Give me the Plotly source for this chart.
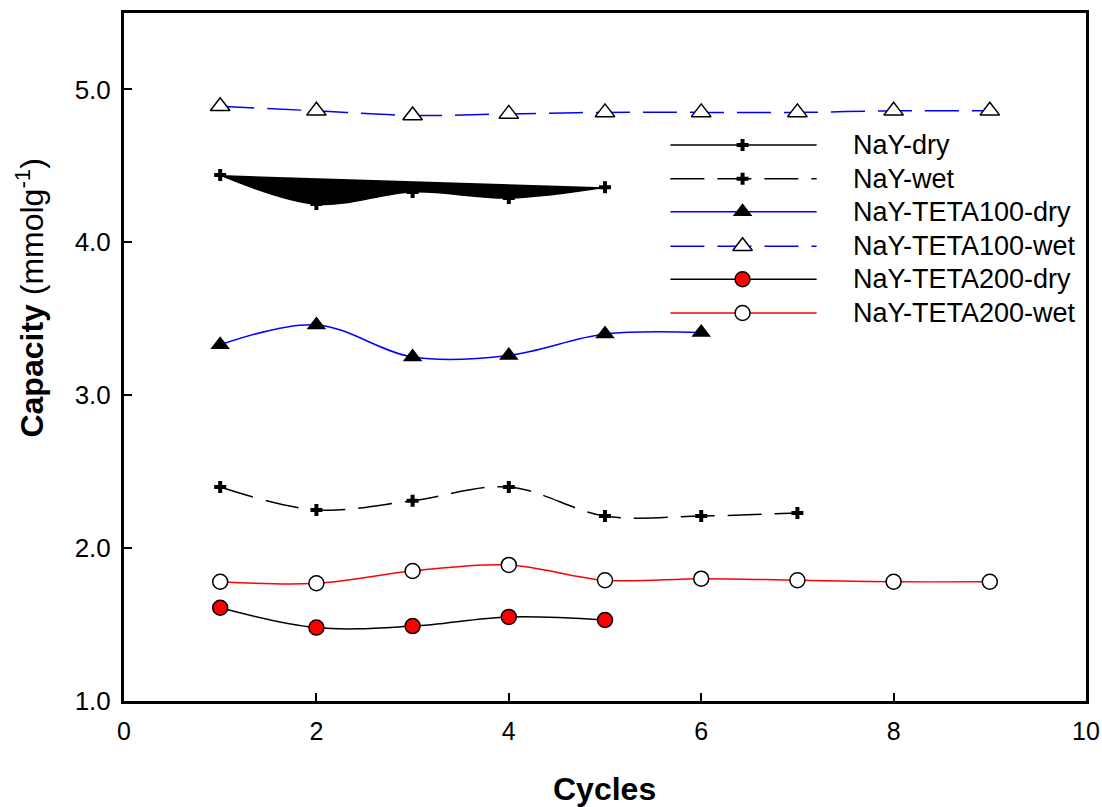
import plotly.graph_objects as go

# ---- data ----
nay_dry_x = [1, 2, 3, 4, 5]
nay_dry_y = [4.44, 4.25, 4.33, 4.29, 4.36]

nay_wet_x = [1, 2, 3, 4, 5, 6, 7]
nay_wet_y = [2.40, 2.25, 2.31, 2.40, 2.21, 2.21, 2.23]

teta100_dry_x = [1, 2, 3, 4, 5, 6]
teta100_dry_y = [3.33, 3.46, 3.25, 3.26, 3.40, 3.41]

teta100_wet_x = [1, 2, 3, 4, 5, 6, 7, 8, 9]
teta100_wet_y = [4.89, 4.86, 4.83, 4.84, 4.85, 4.85, 4.85, 4.86, 4.86]

teta200_dry_x = [1, 2, 3, 4, 5]
teta200_dry_y = [1.61, 1.48, 1.49, 1.55, 1.53]

teta200_wet_x = [1, 2, 3, 4, 5, 6, 7, 8, 9]
teta200_wet_y = [1.78, 1.77, 1.85, 1.89, 1.79, 1.80, 1.79, 1.78, 1.78]

series_names = ["NaY-dry", "NaY-wet", "NaY-TETA100-dry", "NaY-TETA100-wet",
                "NaY-TETA200-dry", "NaY-TETA200-wet"]

x_ticks = [0, 2, 4, 6, 8, 10]
y_ticks = [1.0, 2.0, 3.0, 4.0, 5.0]

x_title = "<b>Cycles</b>"
y_title = "<b>Capacity</b> (mmolg<sup>-1</sup>)"

DASH = "34px,13px"
FONT = "Liberation Sans, Arial, Helvetica, sans-serif"

styles = [
    dict(line=dict(color="black", width=1.5, shape="spline"),
         marker=dict(symbol="cross", size=10, color="black")),
    dict(line=dict(color="black", width=1.5, dash=DASH, shape="spline"),
         marker=dict(symbol="cross", size=10, color="black")),
    dict(line=dict(color="blue", width=1.5, shape="spline"),
         marker=dict(symbol="triangle-up", size=17, color="black")),
    dict(line=dict(color="blue", width=1.5, dash=DASH, shape="spline"),
         marker=dict(symbol="triangle-up", size=17, color="white",
                     line=dict(color="black", width=1.5))),
    dict(line=dict(color="black", width=1.5, shape="spline"),
         marker=dict(symbol="circle", size=15, color="red",
                     line=dict(color="black", width=1.5))),
    dict(line=dict(color="red", width=1.5, shape="spline"),
         marker=dict(symbol="circle", size=15, color="white",
                     line=dict(color="black", width=1.5))),
]

data = [
    (nay_dry_x, nay_dry_y),
    (nay_wet_x, nay_wet_y),
    (teta100_dry_x, teta100_dry_y),
    (teta100_wet_x, teta100_wet_y),
    (teta200_dry_x, teta200_dry_y),
    (teta200_wet_x, teta200_wet_y),
]

fig = go.Figure()
for i, ((xs, ys), st, nm) in enumerate(zip(data, styles, series_names)):
    kw = {}
    if i == 0:
        kw = dict(fill="toself", fillcolor="black")
    fig.add_trace(go.Scatter(x=xs, y=ys, mode="lines+markers", name=nm,
                             showlegend=False, line=st["line"],
                             marker=st["marker"], **kw))

# ---- custom legend (long sample lines) on overlay axes ----
leg_rows = [0.808, 0.759, 0.711, 0.661, 0.613, 0.564]
leg_x0, leg_x1, leg_xm, leg_tx = 0.568, 0.720, 0.643, 0.756
for st, nm, ry in zip(styles, series_names, leg_rows):
    ln = dict(st["line"])
    ln["shape"] = "linear"
    fig.add_trace(go.Scatter(x=[leg_x0, leg_x1], y=[ry, ry], mode="lines",
                             line=ln, xaxis="x2", yaxis="y2",
                             showlegend=False, hoverinfo="skip"))
    fig.add_trace(go.Scatter(x=[leg_xm], y=[ry], mode="markers",
                             marker=st["marker"], xaxis="x2", yaxis="y2",
                             showlegend=False, hoverinfo="skip"))
    fig.add_annotation(x=leg_tx, y=ry, xref="paper", yref="paper",
                       text=nm, showarrow=False, xanchor="left",
                       yanchor="middle",
                       font=dict(family=FONT, size=27, color="black"))

# axis titles as annotations (y title sits above centre, as in the original)
fig.add_annotation(x=-0.098, y=0.586, xref="paper", yref="paper",
                   text=y_title, showarrow=False, textangle=-90,
                   xanchor="center", yanchor="middle",
                   font=dict(family=FONT, size=32, color="black"))
fig.add_annotation(x=0.499, y=-0.128, xref="paper", yref="paper",
                   text=x_title, showarrow=False,
                   xanchor="center", yanchor="middle",
                   font=dict(family=FONT, size=32, color="black"))

fig.update_layout(
    width=1102, height=807,
    margin=dict(l=124, r=16, t=13, b=106, autoexpand=False),
    plot_bgcolor="white", paper_bgcolor="white",
    showlegend=False,
    font=dict(family=FONT, color="black"),
    xaxis=dict(range=[0, 10], tickvals=x_ticks,
               ticktext=[str(v) for v in x_ticks],
               ticks="inside", ticklen=8, tickwidth=1.5, tickcolor="black",
               showline=True, linecolor="black", linewidth=3, mirror=True,
               showgrid=False, zeroline=False, ticklabelstandoff=6,
               automargin=False,
               tickfont=dict(family=FONT, size=25, color="black")),
    yaxis=dict(range=[1.0, 5.5], tickvals=y_ticks,
               ticktext=["%.1f" % v for v in y_ticks],
               ticks="inside", ticklen=8, tickwidth=1.5, tickcolor="black",
               showline=True, linecolor="black", linewidth=3, mirror=True,
               showgrid=False, zeroline=False, ticklabelstandoff=5,
               automargin=False,
               tickfont=dict(family=FONT, size=26, color="black")),
    xaxis2=dict(overlaying="x", range=[0, 1], visible=False, fixedrange=True),
    yaxis2=dict(overlaying="y", range=[0, 1], visible=False, fixedrange=True),
)

fig.write_html("out.html")
